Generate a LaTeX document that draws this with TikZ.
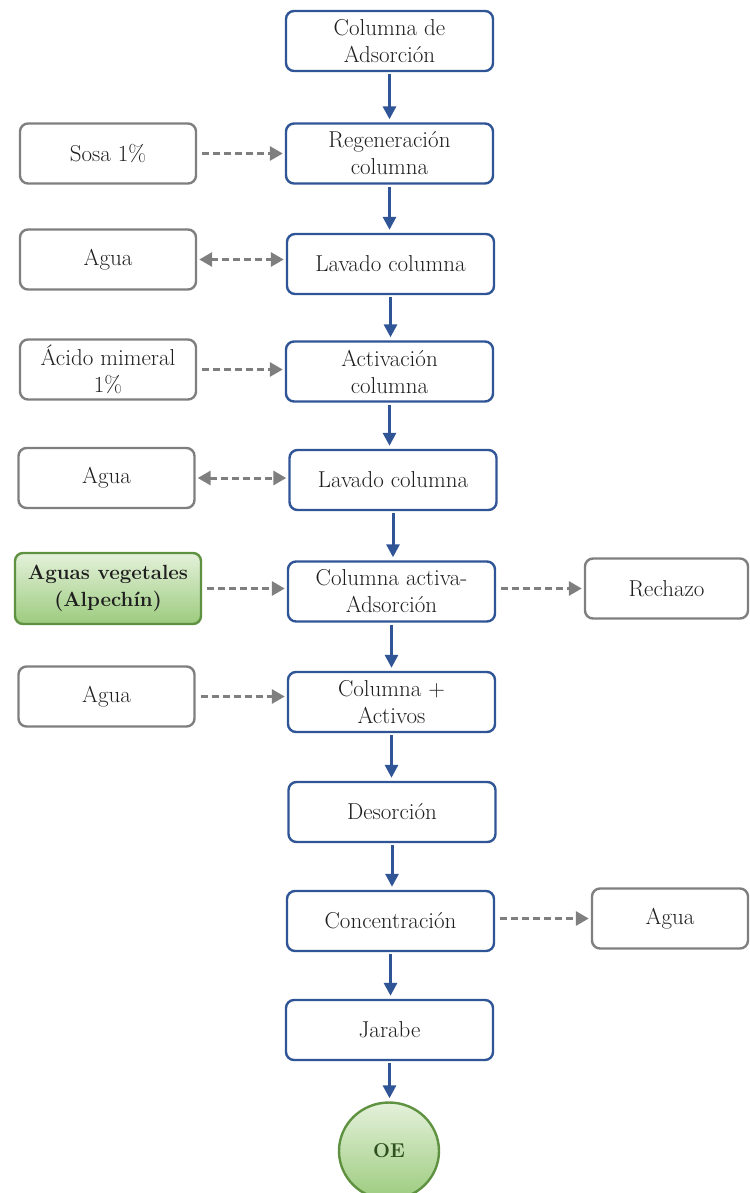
\documentclass[tikz,border=0pt]{standalone}
\usetikzlibrary{arrows.meta,shapes.geometric}
\definecolor{flowblue}{HTML}{2F5597}
\definecolor{sidegrey}{HTML}{7F7F7F}
\definecolor{leafedge}{HTML}{5E9140}
\definecolor{leaftop}{HTML}{E4F1DA}
\definecolor{leafbottom}{HTML}{9CCB7E}
\definecolor{leaftext}{HTML}{2E4F1F}
\definecolor{inktext}{HTML}{1F1F1F}
\begin{document}
\begin{tikzpicture}[x=1pt,y=-1pt,
  box/.style={draw, rounded corners=8pt, line width=2.4pt, minimum width=207pt,
    minimum height=60pt, align=center, fill=white, inner sep=0pt, text=inktext,
    font=\fontsize{23}{27}\selectfont},
  mainbox/.style={box, draw=flowblue},
  sidebox/.style={box, draw=sidegrey, minimum width=176pt},
  feedbox/.style={box, draw=leafedge, top color=leaftop, bottom color=leafbottom,
    minimum width=186pt, minimum height=71pt, font=\fontsize{20.5}{27}\selectfont\bfseries},
  flow/.style={-{Triangle[length=13pt,width=13pt]}, line width=3pt, draw=flowblue,
    shorten >=3pt, shorten <=2pt},
  feed/.style={-{Triangle[length=13pt,width=14pt]}, line width=3pt, draw=sidegrey,
    dash pattern=on 7pt off 4pt, shorten >=2pt, shorten <=5pt},
  swap/.style={feed, {Triangle[length=13pt,width=14pt]}-{Triangle[length=13pt,width=14pt]}}
]
\useasboundingbox (0,0) rectangle (749,1193);

% main process column
\node[mainbox] (m1) at (389.5,41) {Columna de\\Adsorción};
\node[mainbox] (m2) at (389.5,153.5) {Regeneración\\columna};
\node[mainbox] (m3) at (390.5,264) {Lavado columna};
\node[mainbox] (m4) at (389.5,371.5) {Activación\\columna};
\node[mainbox] (m5) at (393,480) {Lavado columna};
\node[mainbox] (m6) at (391.5,591.5) {Columna activa-\\Adsorción};
\node[mainbox] (m7) at (391.5,702) {Columna +\\Activos};
\node[mainbox] (m8) at (392,812) {Desorción};
\node[mainbox] (m9) at (390.5,921) {Concentración};
\node[mainbox] (m10) at (389.5,1030) {Jarabe};
\node[ellipse, draw=leafedge, line width=2.4pt, top color=leaftop, bottom color=leafbottom,
  minimum width=100pt, minimum height=97pt, inner sep=0pt,
  font=\fontsize{20}{25}\selectfont\bfseries, text=leaftext] (oe) at (389,1151) {OE};

% side streams
\node[sidebox] (s1) at (108,153.5) {Sosa 1\%};
\node[sidebox] (s2) at (108,259.5) {Agua};
\node[sidebox] (s3) at (108,369.5) {Ácido mimeral\\1\%};
\node[sidebox] (s4) at (106.5,478) {Agua};
\node[feedbox] (s5) at (108,588.5) {Aguas vegetales\\(Alpechín)};
\node[sidebox] (s6) at (106.5,696.5) {Agua};
\node[sidebox, minimum width=163pt] (r1) at (666.5,588.5) {Rechazo};
\node[sidebox, minimum width=156pt] (r2) at (670,918.5) {Agua};

% main flow
\foreach \a/\b in {m1/m2,m2/m3,m3/m4,m4/m5,m5/m6,m6/m7,m7/m8,m8/m9,m9/m10}
  \draw[flow] (\a.south) -- (\a.south |- \b.north);
\draw[flow] (m10.south) -- (m10.south |- oe.north);

% side connections
\draw[feed] (s1.east) -- (s1.east -| m2.west);
\draw[swap, shorten <=2pt] (s2.east) -- (s2.east -| m3.west);
\draw[feed] (s3.east) -- (s3.east -| m4.west);
\draw[swap, shorten <=2pt] (s4.east) -- (s4.east -| m5.west);
\draw[feed] (s5.east) -- (s5.east -| m6.west);
\draw[feed] (s6.east) -- (s6.east -| m7.west);
\draw[feed] (m6.east |- r1.west) -- (r1.west);
\draw[feed] (m9.east |- r2.west) -- (r2.west);
\end{tikzpicture}
\end{document}
